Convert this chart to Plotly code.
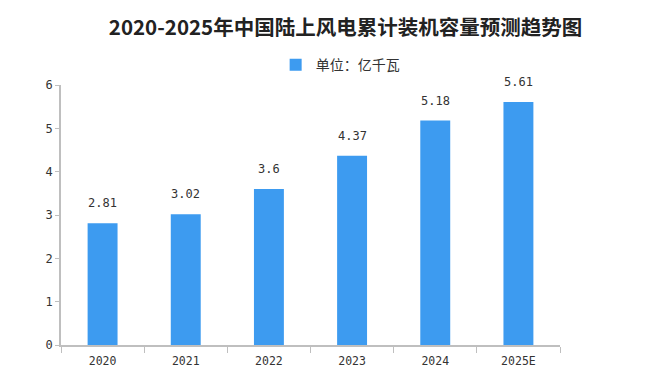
import plotly.graph_objects as go

categories = ["2020", "2021", "2022", "2023", "2024", "2025E"]
values = [2.81, 3.02, 3.6, 4.37, 5.18, 5.61]
value_labels = ["2.81", "3.02", "3.6", "4.37", "5.18", "5.61"]
series_name = "单位：亿千瓦"
title = "2020-2025年中国陆上风电累计装机容量预测趋势图"

font = "Noto Sans CJK SC"
mono = "DejaVu Sans Mono"

fig = go.Figure(go.Bar(
    x=categories, y=values, name=series_name,
    marker=dict(color="#3D9BF0", line=dict(width=0)),
    width=0.36,
    showlegend=True,
))

# value labels: x given as category index on the category axis
for i, (v, t) in enumerate(zip(values, value_labels)):
    fig.add_annotation(x=i, y=v, xref="x", yref="y", text=t, showarrow=False, yshift=20,
                       font=dict(size=12, color="#333333", family=mono))

fig.update_layout(
    width=671, height=381,
    paper_bgcolor="white", plot_bgcolor="white",
    margin=dict(l=53, r=119, t=77, b=44, autoexpand=False),
    title=dict(text="<b>" + title + "</b>", x=0.503, xanchor="center", y=0.9475, yanchor="middle",
               font=dict(size=20.5, color="#222222", family=font)),
    legend=dict(orientation="h", x=0.495, xanchor="center", y=0.85, yanchor="middle",
                yref="container", xref="container",
                font=dict(size=14, color="#333333", family=font)),
    font=dict(family=font, size=12, color="#333333"),
)
fig.update_xaxes(
    type="category", categoryorder="array", categoryarray=categories,
    range=[-0.5, len(categories) - 0.5],
    showline=True, linecolor="#BFBFBF", linewidth=1.5,
    ticks="outside", tickson="boundaries", ticklen=6, tickcolor="#BFBFBF",
    tickfont=dict(size=11.5, color="#333333", family=mono),
    ticklabelstandoff=4, tickangle=0,
    showgrid=False,
)
fig.update_yaxes(
    range=[0, 6], dtick=1,
    showline=True, linecolor="#BFBFBF", linewidth=1.5,
    ticks="outside", ticklen=4, tickcolor="#BFBFBF",
    tickfont=dict(size=12, color="#333333", family=mono),
    showgrid=False, zeroline=False,
)

fig.write_html("out.html")
